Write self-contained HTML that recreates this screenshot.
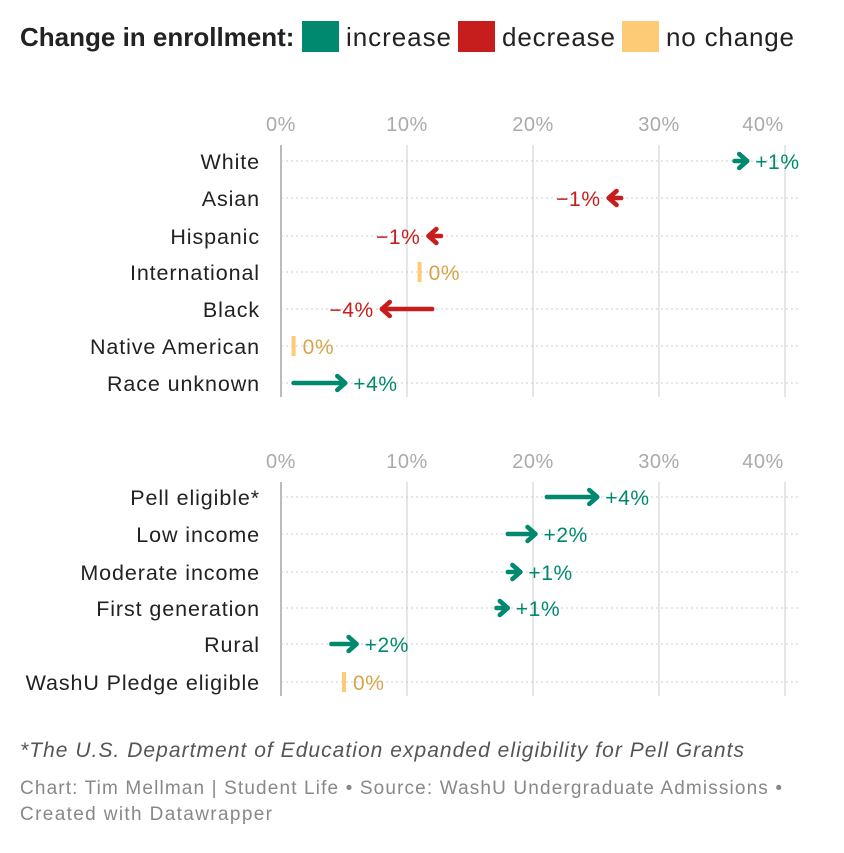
<!DOCTYPE html>
<html><head><meta charset="utf-8"><style>
body{margin:0;background:#fff;width:844px;height:848px;overflow:hidden;font-family:"Liberation Sans",Roboto,sans-serif}
svg text{font-family:"Liberation Sans",sans-serif}
</style></head><body>
<svg id="c" width="844" height="848">
<g>
<text x="20" y="46" font-size="26" font-weight="bold" fill="#222">Change in enrollment:</text>
<rect x="302" y="21" width="37" height="31" fill="#00896f"/>
<text x="346" y="46" font-size="26" fill="#222" textLength="105">increase</text>
<rect x="458" y="21" width="37" height="31" fill="#c71e1d"/>
<text x="502" y="46" font-size="26" fill="#222" textLength="113">decrease</text>
<rect x="622" y="21" width="37" height="31" fill="#fdcb76"/>
<text x="666" y="46" font-size="26" fill="#222" textLength="128">no change</text>
</g>
<g id="plot"></g>
<text x="20" y="757" font-size="21" font-style="italic" fill="#555" textLength="724">*The U.S. Department of Education expanded eligibility for Pell Grants</text>
<text x="20" y="794" font-size="19" fill="#888" textLength="762">Chart: Tim Mellman | Student Life • Source: WashU Undergraduate Admissions •</text>
<text x="20" y="820" font-size="19" fill="#888" textLength="252">Created with Datawrapper</text>
</svg>
<script>
const ticks=[0,10,20,30,40];
const cats1=["White","Asian","Hispanic","International","Black","Native American","Race unknown "];
const start1=[36,27,12.7,11,12,1,1];
const end1=[37,26,11.7,11,8,1,5.1];
const labels1=["+1%","−1%","−1%","0%","−4%","0%","+4%"];
const cats2=["Pell eligible*","Low income","Moderate income","First generation","Rural","WashU Pledge eligible"];
const start2=[21.1,18,18,17.1,4,5];
const end2=[25.1,20.2,19,18,6,5];
const labels2=["+4%","+2%","+1%","+1%","+2%","0%"];
const NS="http://www.w3.org/2000/svg";
const g=document.getElementById('plot');
const x=v=>281+v*12.6;
function mk(t,a,p){const e=document.createElementNS(NS,t);for(const k in a)e.setAttribute(k,a[k]);(p||g).appendChild(e);return e;}
function panel(cats,st,en,lab,tickY,rowYs,id){
  ticks.forEach((t,i)=>{
    const l=mk('line',{x1:x(t),x2:x(t),y1:tickY+14,y2:rowYs[rowYs.length-1]+14,stroke:t===0?'#bbb':'#ddd','stroke-width':t===0?2:1.5});
    
    
    const tx=mk('text',{x:i===4?x(t)-22:x(t),y:tickY,'text-anchor':'middle','font-size':20,fill:'#aaa','letter-spacing':0.5});
    tx.textContent=t+'%';
    
    
  });
  cats.forEach((c,i)=>{
    const y=rowYs[i];
    const gl=mk('line',{x1:281,x2:800,y1:y,y2:y,stroke:'#ccc','stroke-dasharray':'2,3','stroke-width':1});
    
    
    const t=mk('text',{x:260,y:y+8,'text-anchor':'end','font-size':21.5,fill:'#222','letter-spacing':0.9});
    t.textContent=c;
    
    
    const a=x(st[i]),b=x(en[i]);
    let col,lx,anchor;
    if(en[i]>st[i]){col='#00896f';
      mk('line',{x1:a,x2:b-2,y1:y,y2:y,stroke:col,'stroke-width':4.5,'stroke-linecap':'round'});
      mk('path',{d:`M${b-8},${y-7} L${b},${y} L${b-8},${y+7}`,fill:'none',stroke:col,'stroke-width':4.5,'stroke-linecap':'round','stroke-linejoin':'round'});
      lx=b+8;anchor='start';}
    else if(en[i]<st[i]){col='#c71e1d';
      mk('line',{x1:a,x2:b+2,y1:y,y2:y,stroke:col,'stroke-width':4.5,'stroke-linecap':'round'});
      mk('path',{d:`M${b+8},${y-7} L${b},${y} L${b+8},${y+7}`,fill:'none',stroke:col,'stroke-width':4.5,'stroke-linecap':'round','stroke-linejoin':'round'});
      lx=b-8;anchor='end';}
    else{col='#fdcb76';
      mk('rect',{x:a-2,y:y-10,width:4,height:20,fill:col});
      lx=a+9;anchor='start';}
    const vl=mk('text',{x:lx,y:y+8,'text-anchor':anchor,'font-size':21,fill:col==='#fdcb76'?'#d6a548':col,'letter-spacing':0.6});
    vl.textContent=lab[i];
    
    
  });
}
panel(cats1,start1,end1,labels1,131,[161,198,236,272,309,346,383],'top');
panel(cats2,start2,end2,labels2,468,[497,534,572,608,644,682],'bottom');
</script>
</body></html>
